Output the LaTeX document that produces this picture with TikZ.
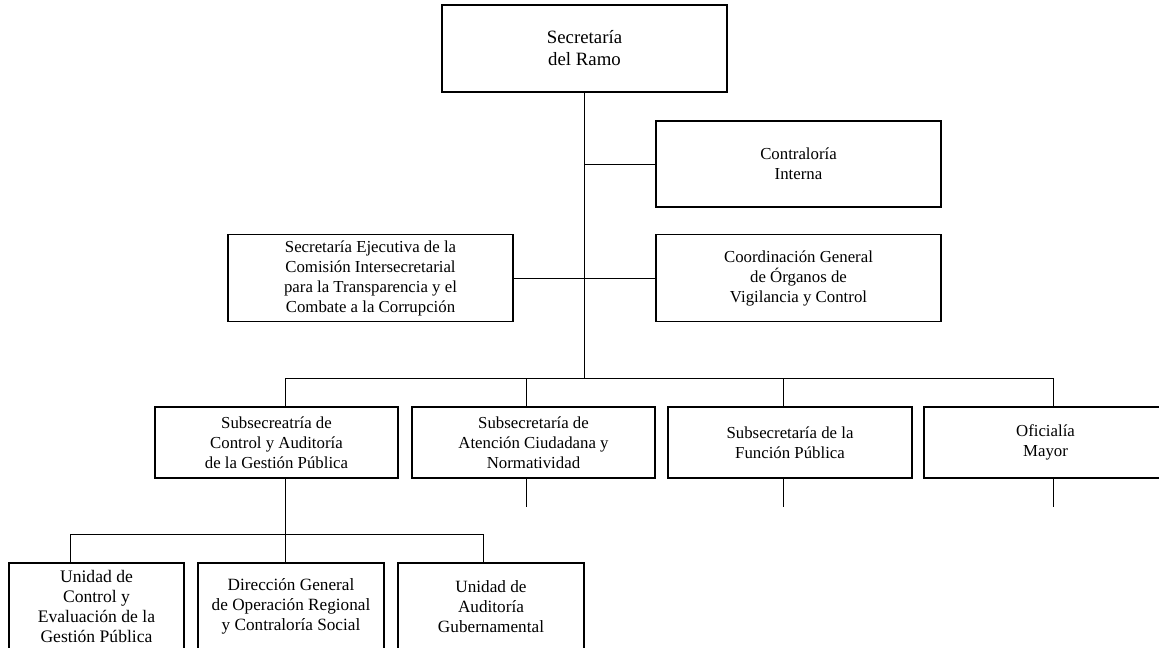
\documentclass[tikz,border=0pt]{standalone}
\usepackage{fontspec}
\setmainfont{Liberation Serif}
\usetikzlibrary{positioning}

\begin{document}
\begin{tikzpicture}[x=0.5pt, y=-0.5pt,
    caja/.style={rectangle, draw, line width=0.7pt, align=center, inner sep=2pt,
      font=\fontsize{8.4}{10}\selectfont},
    linea/.style={line width=0.5pt}]
      \useasboundingbox (0,0) rectangle (1159,647);
      \clip (0,0) rectangle (1159,647);

      % SECRETARIA
      \node[caja, font=\fontsize{9.4}{11}\selectfont, minimum width=142.5pt, minimum height=43.5pt] (ramo) at (584.5,48.5) {Secretaría\\ del Ramo};
      \node[caja, minimum width=142.5pt, minimum height=43pt] (contraloria) at (798.5,164) {Contraloría\\Interna};
      \node[caja, minimum width=142.5pt, minimum height=43.5pt] (secejec) at (370.5,278) {Secretaría Ejecutiva de la\\Comisión Intersecretarial\\para la Transparencia y el\\Combate a la Corrupción};
      \node[caja, minimum width=142.5pt, minimum height=43.5pt] (coord) at (798.5,278) {Coordinación General\\de Órganos de\\Vigilancia y Control};

      % SUBSECRETARIAS
      \node[caja, minimum width=121.5pt, minimum height=35.5pt] (sub1) at (276.5,442.5) {Subsecreatría de\\Control y Auditoría\\de la Gestión Pública};
      \node[caja, minimum width=121.5pt, minimum height=35.5pt] (sub2) at (533.5,442.5) {Subsecretaría de\\Atención Ciudadana y\\Normatividad};
      \node[caja, minimum width=122pt, minimum height=35.5pt] (sub3) at (790,442.5) {Subsecretaría de la\\Función Pública};
      \node[caja, minimum width=121.5pt, minimum height=35.5pt] (oficialia) at (1045.5,442.5) {Oficialía\\Mayor};

      % UNIDADES
      \node[caja, font=\fontsize{8.8}{10}\selectfont, minimum width=87.5pt, minimum height=43.5pt] (unidad1) at (96.5,606.5) {Unidad de\\Control y\\Evaluación de la\\Gestión Pública};
      \node[caja, font=\fontsize{8.6}{10}\selectfont, minimum width=93pt, minimum height=43.5pt] (direccion) at (291,606.5) {Dirección General\\de Operación Regional\\y Contraloría Social};
      \node[caja, font=\fontsize{8.6}{10}\selectfont, minimum width=93pt, minimum height=43.5pt] (unidad2) at (491,606.5) {Unidad de\\Auditoría\\Gubernamental};

      % puntos de las lineas
      \coordinate (bus1) at (584,378);
      \coordinate (b1) at (285,378);
      \coordinate (b2) at (526,378);
      \coordinate (b3) at (783,378);
      \coordinate (b4) at (1053,378);
      \coordinate (c1) at (70,534);
      \coordinate (c2) at (285,534);
      \coordinate (c3) at (483,534);

      \draw[linea] (ramo.south -| bus1) -- (bus1);
      \draw[linea] (bus1 |- contraloria.west) -- (contraloria.west);
      \draw[linea] (secejec.east) -- (coord.west);
      \draw[linea] (b1) -- (b4);
      \foreach \b/\s in {b1/sub1, b2/sub2, b3/sub3, b4/oficialia}
        \draw[linea] (\b) -- (\b |- \s.north);
      \foreach \b/\s in {b2/sub2, b3/sub3, b4/oficialia}
        \draw[linea] (\b |- \s.south) -- ++(0,28);
      \draw[linea] (sub1.south -| c2) -- (c2);
      \draw[linea] (c1) -- (c3);
      \foreach \c/\u in {c1/unidad1, c2/direccion, c3/unidad2}
        \draw[linea] (\c) -- (\c |- \u.north);
    \end{tikzpicture}
\end{document}
